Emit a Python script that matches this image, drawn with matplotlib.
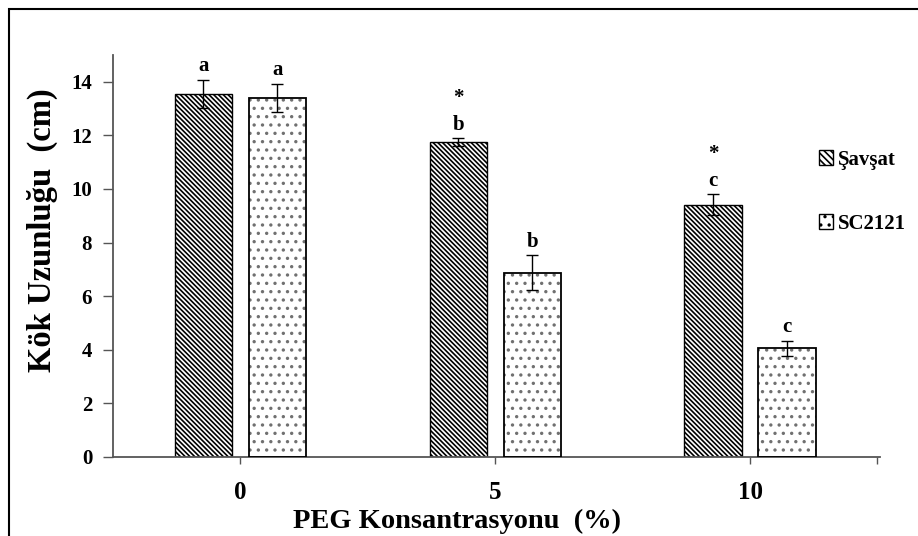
import matplotlib
matplotlib.use("Agg")
import matplotlib.pyplot as plt
from matplotlib.patches import Rectangle
import numpy as np

plt.rcParams['font.family'] = ['Liberation Serif', 'DejaVu Serif']
plt.rcParams['font.weight'] = 'bold'
plt.rcParams['hatch.linewidth'] = 1.2

categories = ['0', '5', '10']
series = ['Şavşat', 'SC2121']
savsat = [13.55, 11.75, 9.42]
savsat_err = [0.52, 0.15, 0.38]
sc2121 = [13.40, 6.87, 4.05]
sc2121_err = [0.52, 0.65, 0.28]
savsat_letters = ['a', 'b', 'c']
sc2121_letters = ['a', 'b', 'c']
savsat_stars = ['', '*', '*']

fig = plt.figure(figsize=(9.18, 5.36), dpi=100)
ax = fig.add_axes([113 / 918, 1 - 457 / 536, (880 - 113) / 918, (457 - 55) / 536])

x = np.arange(len(categories))
w = 0.225
off = 0.145
dense = '\\' * 7

ax.bar(x - off, savsat, w, color='white', edgecolor='black', hatch=dense, linewidth=1.0, zorder=2)
ax.bar(x + off, sc2121, w, color='white', edgecolor='#707070', hatch='..', linewidth=0, zorder=2)
ax.bar(x + off, sc2121, w, color='none', edgecolor='black', linewidth=1.3, zorder=3)
ax.errorbar(x - off, savsat, yerr=savsat_err, fmt='none', ecolor='black', elinewidth=1, capsize=4, capthick=1, zorder=4)
ax.errorbar(x + off, sc2121, yerr=sc2121_err, fmt='none', ecolor='black', elinewidth=1, capsize=4, capthick=1, zorder=4)

for i in range(len(categories)):
    top = savsat[i] + savsat_err[i]
    ax.text(x[i] - off, top + 0.32, savsat_letters[i], ha='center', va='baseline', fontsize=15, fontweight='bold')
    if savsat_stars[i]:
        ax.text(x[i] - off, top + 1.5, savsat_stars[i], ha='center', va='center', fontsize=15, fontweight='bold')
    top = sc2121[i] + sc2121_err[i]
    ax.text(x[i] + off, top + 0.32, sc2121_letters[i], ha='center', va='baseline', fontsize=15, fontweight='bold')

ax.set_xlim(-0.5, 2.51)
ax.set_ylim(0, 15)
ax.set_yticks(np.arange(0, 15, 2))
ax.set_xticks([0, 1, 2, 2.5])
ax.set_xticklabels(categories + [''])
ax.tick_params(axis='y', labelsize=15, length=7, width=1, color='#555555', pad=8)
ax.tick_params(axis='x', labelsize=18, length=5, width=1, color='#555555', pad=12)
for lbl in ax.get_xticklabels() + ax.get_yticklabels():
    lbl.set_fontweight('bold')
for s in ['top', 'right']:
    ax.spines[s].set_visible(False)
for s in ['left', 'bottom']:
    ax.spines[s].set_color('#555555')
    ax.spines[s].set_linewidth(1.3)

ax.set_xlabel('PEG Konsantrasyonu  (%)', fontsize=20.5, fontweight='bold', labelpad=4)
ax.xaxis.label.set_x(0.449)
ax.set_ylabel('Kök Uzunluğu  (cm)', fontsize=23.5, fontweight='bold', labelpad=10)
ax.yaxis.label.set_y(0.565)

h1 = Rectangle((0, 0), 1, 1, facecolor='white', edgecolor='black', hatch='\\' * 5)
h2 = Rectangle((0, 0), 1, 1, facecolor='white', edgecolor='black', hatch='..')
fig.legend([h1, h2], series, loc='upper left', bbox_to_anchor=(800 / 918, 1 - 131 / 536),
           frameon=False, prop={'size': 15, 'weight': 'bold'}, handlelength=0.7, handleheight=0.7,
           handletextpad=0.2, labelspacing=2.1)

fig.patches.append(Rectangle((8.5 / 918, -0.1), 1.2, 1 - 8.5 / 536 + 0.1, transform=fig.transFigure,
                             fill=False, edgecolor='black', linewidth=1.5))

fig.savefig('out.png', dpi=100)
